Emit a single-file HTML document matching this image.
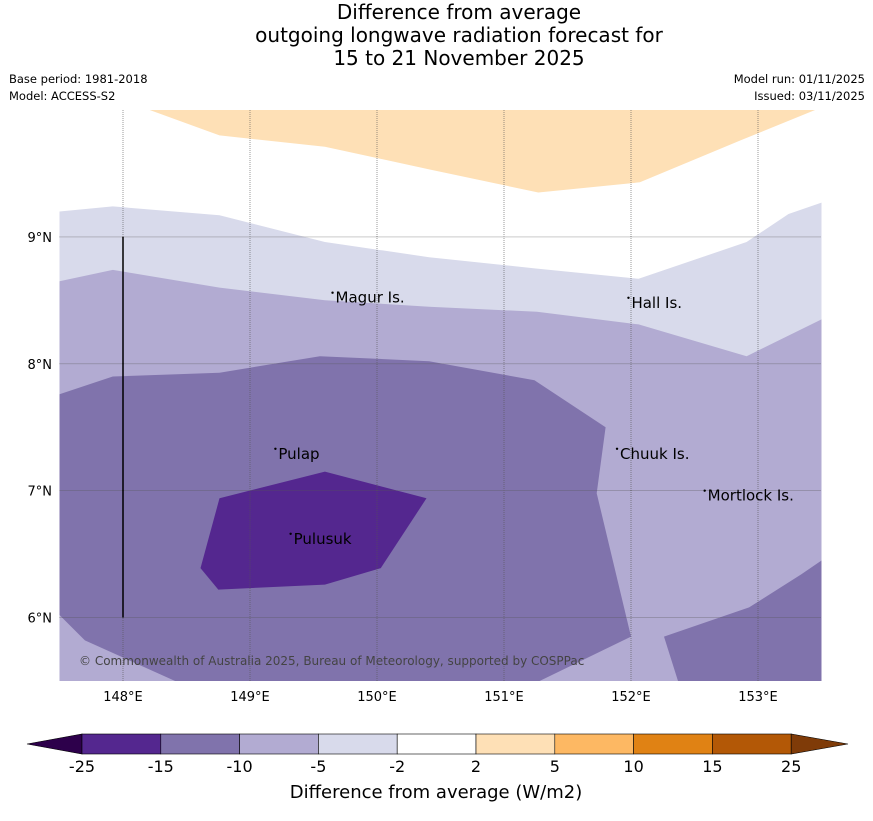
<!DOCTYPE html>
<html><head><meta charset="utf-8"><style>
body{margin:0;background:#fff;font-family:"Liberation Sans","DejaVu Sans",sans-serif;}
svg text{font-family:"DejaVu Sans","Liberation Sans",sans-serif;}
</style></head><body>
<svg id="c" width="873" height="816" viewBox="0 0 873 816" xmlns="http://www.w3.org/2000/svg">
<text x="459" y="19" font-size="20" text-anchor="middle">Difference from average</text>
<text x="459" y="42" font-size="20" text-anchor="middle">outgoing longwave radiation forecast for</text>
<text x="459" y="65" font-size="20" text-anchor="middle">15 to 21 November 2025</text>
<text x="9" y="83" font-size="11.5">Base period: 1981-2018</text>
<text x="9" y="100" font-size="11.5">Model: ACCESS-S2</text>
<text x="865" y="83" font-size="11.5" text-anchor="end">Model run: 01/11/2025</text>
<text x="865" y="100" font-size="11.5" text-anchor="end">Issued: 03/11/2025</text>
<g id="map"></g>
<g id="cb"></g>
<text x="436" y="798" font-size="18" text-anchor="middle">Difference from average (W/m2)</text>
</svg>
<script>
const lonTicks=[148,149,150,151,152,153];
const latTicks=[6,7,8,9];
const levels=[-25,-15,-10,-5,-2,2,5,10,15,25];
const levelColors=["#54278f","#8073ac","#b2abd2","#d8daeb","#ffffff","#fee0b6","#fdb863","#e08214","#b35806"];
const contourFills=["#fee0b6","#d8daeb","#b2abd2","#8073ac","#8073ac","#54278f"];
const contourNames=["orange-2-5","lavender-minus5","purple-minus10","purple-minus15-main","purple-minus15-se","purple-minus25"];
const contourLon=[
[148.21,148.76,149.59,150.42,151.27,152.07,152.86,153.45],
[147.5,147.92,148.76,149.59,150.41,151.26,152.06,152.91,153.24,153.5,153.5,147.5],
[147.5,147.92,148.76,149.59,150.41,151.26,152.06,152.91,153.5,153.5,147.5],
[147.5,147.92,148.76,149.55,150.41,151.24,151.8,151.73,152.0,151.28,148.41,147.7,147.5],
[152.26,152.93,153.34,153.5,153.5,152.37],
[148.76,149.59,150.39,150.03,149.59,148.75,148.61]];
const contourLat=[
[10,9.8,9.71,9.53,9.35,9.43,9.76,10],
[9.2,9.24,9.17,8.96,8.84,8.75,8.67,8.96,9.18,9.27,5.5,5.5],
[8.65,8.74,8.6,8.5,8.45,8.41,8.31,8.06,8.35,5.5,5.5],
[7.76,7.9,7.93,8.06,8.02,7.87,7.5,6.98,5.85,5.5,5.5,5.82,6.02],
[5.85,6.08,6.34,6.45,5.5,5.5],
[6.94,7.15,6.94,6.39,6.26,6.22,6.39]];
const islands=["Magur Is.","Hall Is.","Pulap","Chuuk Is.","Mortlock Is.","Pulusuk"];
const islandLon=[149.65,151.98,149.2,151.89,152.58,149.32];
const islandLat=[8.56,8.52,7.33,7.33,7.0,6.66];

const NS="http://www.w3.org/2000/svg";
const X0=59.5,X1=821.5,Y0=110,Y1=681,LON0=147.5,LON1=153.5,LAT0=5.5,LAT1=10;
const xs=l=>X0+(l-LON0)/(LON1-LON0)*(X1-X0);
const ys=l=>Y1-(l-LAT0)/(LAT1-LAT0)*(Y1-Y0);
function mk(tag,attrs,parent){const e=document.createElementNS(NS,tag);for(const k in attrs)e.setAttribute(k,attrs[k]);parent.appendChild(e);return e;}
const map=document.getElementById('map');
const cp=mk('clipPath',{id:'clip'},map);mk('rect',{x:X0,y:Y0,width:X1-X0,height:Y1-Y0},cp);
const g=mk('g',{'clip-path':'url(#clip)'},map);
contourLon.forEach((lons,i)=>{
 const pts=lons.map((l,j)=>xs(l).toFixed(1)+','+ys(contourLat[i][j]).toFixed(1)).join(' ');
 const p=mk('polygon',{points:pts,fill:contourFills[i]},g);
 
 
});
lonTicks.forEach(l=>{
 const ln=mk('line',{x1:xs(l),x2:xs(l),y1:Y0,y2:Y1,stroke:'#555','stroke-width':0.6,'stroke-dasharray':'1,1'},map);
 
 
 const t=mk('text',{x:xs(l),y:701,'font-size':13,'text-anchor':'middle'},map);t.textContent=l+'°E';
 
 
});
latTicks.forEach(l=>{
 const ln=mk('line',{x1:X0,x2:X1,y1:ys(l),y2:ys(l),stroke:'#555','stroke-width':0.6,'stroke-dasharray':'1,1'},map);
 
 
 const t=mk('text',{x:52,y:ys(l)+5,'font-size':13,'text-anchor':'end'},map);t.textContent=l+'°N';
 
 
});
const vl=mk('line',{x1:xs(148),x2:xs(148),y1:ys(9),y2:ys(6),stroke:'#000','stroke-width':1.5},map);


islands.forEach((n,i)=>{
 const d=mk('circle',{cx:xs(islandLon[i]),cy:ys(islandLat[i]),r:1.2,fill:'#000'},map);
 
 
 const t=mk('text',{x:xs(islandLon[i])+3,y:ys(islandLat[i])+10,'font-size':15},map);t.textContent=n;
 
 
});
const cr=mk('text',{x:79,y:665,'font-size':12,fill:'#444'},map);cr.textContent='© Commonwealth of Australia 2025, Bureau of Meteorology, supported by COSPPac';



const cb=document.getElementById('cb');
const CB0=82,CBW=78.8,CY=734,CH=20;
const lt=mk('polygon',{points:`27,${CY+CH/2} ${CB0},${CY} ${CB0},${CY+CH}`,fill:'#2d004b',stroke:'#000','stroke-width':0.6},cb);


levelColors.forEach((c,i)=>{
 const r=mk('rect',{x:CB0+i*CBW,y:CY,width:CBW,height:CH,fill:c,stroke:'#000','stroke-width':0.6},cb);
 
 
});
const xe=CB0+levelColors.length*CBW;
const rt=mk('polygon',{points:`${xe},${CY} ${xe},${CY+CH} 848,${CY+CH/2}`,fill:'#7f3b08',stroke:'#000','stroke-width':0.6},cb);


levels.forEach((v,i)=>{
 const t=mk('text',{x:CB0+i*CBW,y:772,'font-size':16,'text-anchor':'middle'},cb);t.textContent=v;
 
 
});
</script>
</body></html>
